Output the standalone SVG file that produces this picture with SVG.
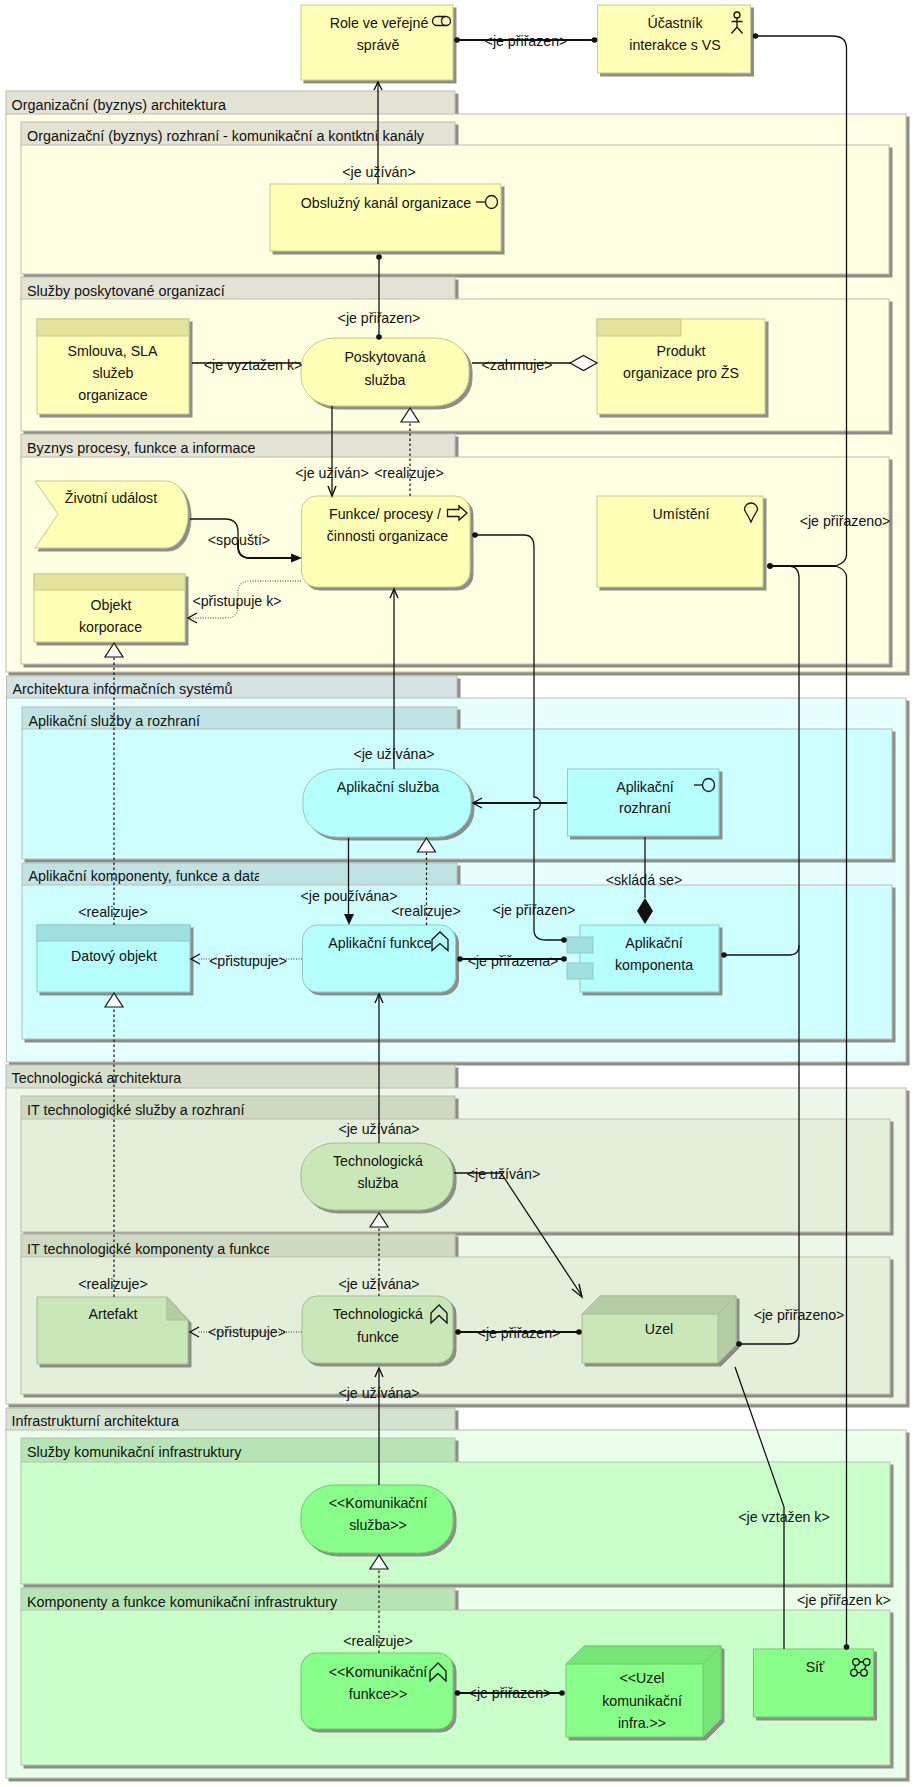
<svg xmlns="http://www.w3.org/2000/svg" width="915" height="1787" viewBox="0 0 915 1787">
<style>
text{font-family:"Liberation Sans",Arial,sans-serif;font-size:14.2px;fill:#111}
.ti{font-size:14.35px}
.c{text-anchor:middle}
.b{stroke-width:1;filter:url(#sh)}
.biz{fill:#ffffb5;stroke:#c9c98f}
.app{fill:#b5ffff;stroke:#8fc9c9}
.tec{fill:#c9e7b7;stroke:#a3bd93}
.inf{fill:#88ff88;stroke:#6ecb6e}
.bh{fill:#e3e39c;stroke:#c9c98f}
.ah{fill:#a0e0e0;stroke:#8fc9c9}
.td{fill:#b5cda5;stroke:#a3bd93}
.id{fill:#75e575;stroke:#6ecb6e}
.gt{stroke:#bdbdb0;stroke-width:1;filter:url(#sh)}
.ic{fill:none;stroke:#111;stroke-width:1.3}
.l{fill:none;stroke:#111;stroke-width:1.3}
.t{stroke-width:1.8}
.d{stroke-dasharray:2.500 2.500;stroke-width:1.200}
.g{stroke:#777;stroke-dasharray:1 1.500}
.o{fill:none;stroke:#111;stroke-width:1.4}
.w{fill:#fff;stroke:#111;stroke-width:1.2}
.k{fill:#111;stroke:none}
</style>
<defs>
<filter id="sh" x="-5%" y="-5%" width="110%" height="115%"><feDropShadow dx="3" dy="3" stdDeviation="0" flood-color="#8e8e88"/></filter>
<clipPath id="c1"><rect x="22" y="863" width="237" height="24"/></clipPath>
<clipPath id="c2"><rect x="21" y="1234" width="248" height="24"/></clipPath>
</defs>

<!-- architecture layers and their sub-containers -->
<g id="layer-business">
<rect class="gt" x="6" y="91" width="449" height="24" fill="#e3e3d3"/>
<rect class="gt" x="6" y="114" width="900" height="558" fill="#ffffe6"/>
<text class="ti" x="11.500" y="110">Organizační (byznys) architektura</text>
</g>
<g id="box-channels">
<rect class="gt" x="21" y="122" width="434" height="24" fill="#e3e3d3"/>
<rect class="gt" x="21" y="145" width="868" height="129" fill="#ffffe1"/>
<text class="ti" x="27" y="141">Organizační (byznys) rozhraní - komunikační a kontktní kanály</text>
</g>
<g id="box-services">
<rect class="gt" x="21" y="277" width="434" height="23" fill="#e3e3d3"/>
<rect class="gt" x="21" y="299" width="868" height="132" fill="#ffffe1"/>
<text class="ti" x="27" y="296">Služby poskytované organizací</text>
</g>
<g id="box-processes">
<rect class="gt" x="21" y="434" width="434" height="24" fill="#e3e3d3"/>
<rect class="gt" x="21" y="457" width="868" height="207" fill="#ffffe1"/>
<text class="ti" x="27" y="453">Byznys procesy, funkce a informace</text>
</g>
<g id="layer-is">
<rect class="gt" x="6.500" y="676" width="450.500" height="23" fill="#d3e3e3"/>
<rect class="gt" x="6.500" y="698" width="899.500" height="364" fill="#e6ffff"/>
<text class="ti" x="12.500" y="694">Architektura informačních systémů</text>
</g>
<g id="box-app-services">
<rect class="gt" x="22" y="707" width="435" height="23" fill="#bfe3e3"/>
<rect class="gt" x="22" y="729" width="870" height="130" fill="#ceffff"/>
<text class="ti" x="28.500" y="726">Aplikační služby a rozhraní</text>
</g>
<g id="box-app-components">
<rect class="gt" x="22" y="863" width="435" height="23" fill="#bfe3e3"/>
<rect class="gt" x="22" y="885" width="870" height="154" fill="#ceffff"/>
<text class="ti" x="28.500" y="881" clip-path="url(#c1)">Aplikační komponenty, funkce a data</text>
</g>
<g id="layer-tech">
<rect class="gt" x="6" y="1065" width="449" height="24" fill="#d5dfcb"/>
<rect class="gt" x="6" y="1088" width="900" height="316" fill="#edf7e7"/>
<text class="ti" x="11.500" y="1083">Technologická architektura</text>
</g>
<g id="box-tech-services">
<rect class="gt" x="21" y="1096" width="434" height="24" fill="#cdd9c0"/>
<rect class="gt" x="21" y="1119" width="869" height="113" fill="#e3efd8"/>
<text class="ti" x="27" y="1115">IT technologické služby a rozhraní</text>
</g>
<g id="box-tech-components">
<rect class="gt" x="21" y="1234" width="434" height="24" fill="#cdd9c0"/>
<rect class="gt" x="21" y="1257" width="869" height="137" fill="#e3efd8"/>
<text class="ti" x="27" y="1254" clip-path="url(#c2)">IT technologické komponenty a funkce</text>
</g>
<g id="layer-infra">
<rect class="gt" x="6" y="1408" width="449" height="23" fill="#d3e3d0"/>
<rect class="gt" x="6" y="1430" width="900" height="348" fill="#e9ffe9"/>
<text class="ti" x="11.500" y="1426">Infrastrukturní architektura</text>
</g>
<g id="box-comm-services">
<rect class="gt" x="21" y="1438" width="434" height="25" fill="#b5e5b5"/>
<rect class="gt" x="21" y="1462" width="869" height="122" fill="#c9ffc9"/>
<text class="ti" x="27" y="1457">Služby komunikační infrastruktury</text>
</g>
<g id="box-comm-components">
<rect class="gt" x="21" y="1588" width="434" height="23" fill="#b5e5b5"/>
<rect class="gt" x="21" y="1610" width="869" height="155" fill="#c9ffc9"/>
<text class="ti" x="27" y="1607">Komponenty a funkce komunikační infrastruktury</text>
</g>

<!-- elements -->
<g id="role">
<rect class="b biz" x="301" y="5" width="152" height="75"/>
<path class="ic" d="M437 16.500H446a4.500 4.500 0 0 1 0 9H437a4.500 4.500 0 0 1 0-9ZM446 16.500a4.500 4.500 0 0 0 0 9"/>
<text class="c" x="379" y="28">Role ve veřejné</text><text class="c" x="378" y="50">správě</text>
</g>
<g id="actor">
<rect class="b biz" x="597.500" y="5" width="153" height="68"/>
<circle class="ic" cx="737" cy="15" r="3"/><path class="ic" d="M737 18V27M731.500 21.500H742.500M737 27L731.500 33.500M737 27L742.500 33.500"/>
<text class="c" x="675" y="28">Účastník</text><text class="c" x="675" y="50">interakce s VS</text>
</g>
<g id="channel">
<rect class="b biz" x="270" y="184" width="231" height="67"/>
<path class="ic" d="M476 202H485"/><ellipse class="ic" cx="491.500" cy="202" rx="6" ry="6.500"/>
<text class="c" x="386" y="208">Obslužný kanál organizace</text>
</g>
<g id="contract">
<rect class="b biz" x="37" y="319" width="152" height="95"/>
<rect class="bh" x="37" y="319" width="152" height="17"/>
<text class="c" x="112.500" y="356">Smlouva, SLA</text><text class="c" x="113" y="378">služeb</text><text class="c" x="113" y="400">organizace</text>
</g>
<g id="service-org">
<rect class="b biz" x="301" y="338" width="168" height="68" rx="34" ry="30"/>
<text class="c" x="385" y="362">Poskytovaná</text><text class="c" x="385" y="385">služba</text>
</g>
<g id="product">
<rect class="b biz" x="597" y="319" width="168" height="95"/>
<path class="bh" d="M597 319H681V336H597Z"/>
<text class="c" x="681" y="356">Produkt</text><text class="c" x="681" y="378">organizace pro ŽS</text>
</g>
<g id="life-event">
<path class="b biz" d="M35 481H165C180 481 188 497 188 514S180 548 165 548H35L58 514Z"/>
<text class="c" x="111" y="503">Životní událost</text>
</g>
<g id="process">
<rect class="b biz" x="301.500" y="496" width="168.500" height="91" rx="15"/>
<path class="ic" d="M447.500 509.500H459V506L467 513L459 520V516.500H447.500Z"/>
<text class="c" x="385" y="519">Funkce/ procesy /</text><text class="c" x="387.500" y="541">činnosti organizace</text>
</g>
<g id="location">
<rect class="b biz" x="597" y="496" width="166" height="91"/>
<path class="ic" d="M751 522C747 513 744.500 511 744.500 509.500A6.500 6.500 0 0 1 757.500 509.500C757.500 511 755 513 751 522Z"/>
<text class="c" x="681" y="519">Umístění</text>
</g>
<g id="business-object">
<rect class="b biz" x="34" y="574" width="151" height="68"/>
<rect class="bh" x="34" y="574" width="151" height="16"/>
<text class="c" x="111" y="610">Objekt</text><text class="c" x="110.500" y="632">korporace</text>
</g>
<g id="app-service">
<rect class="b app" x="303" y="769" width="168" height="68" rx="34" ry="30"/>
<text class="c" x="388" y="792">Aplikační služba</text>
</g>
<g id="app-interface">
<rect class="b app" x="567.500" y="769" width="151.500" height="67"/>
<path class="ic" d="M694 785H702"/><ellipse class="ic" cx="708.500" cy="785" rx="6" ry="6.500"/>
<text class="c" x="645" y="792">Aplikační</text><text class="c" x="645" y="813">rozhraní</text>
</g>
<g id="data-object">
<rect class="b app" x="37" y="925" width="153" height="67"/>
<rect class="ah" x="37" y="925" width="153" height="16"/>
<text class="c" x="114" y="961">Datový objekt</text>
</g>
<g id="app-function">
<rect class="b app" x="302.500" y="925" width="153" height="67" rx="15"/>
<path class="ic" d="M432 950.500V939.500L440 932L448 939.500V950.500L440 943.500Z"/>
<text class="c" x="380" y="948">Aplikační funkce</text>
</g>
<g id="app-component">
<rect class="b app" x="580" y="925" width="139" height="67"/>
<rect class="ah" x="567" y="937" width="26" height="16"/>
<rect class="ah" x="567" y="963" width="26" height="16"/>
<text class="c" x="654" y="948">Aplikační</text><text class="c" x="654" y="970">komponenta</text>
</g>
<g id="tech-service">
<rect class="b tec" x="301" y="1143" width="152" height="67" rx="34" ry="30"/>
<text class="c" x="378" y="1166">Technologická</text><text class="c" x="378" y="1188">služba</text>
</g>
<g id="artifact">
<path class="b tec" d="M37 1297H167L188 1320V1364H37Z"/>
<path class="td" d="M167 1297L188 1320H167Z"/>
<text class="c" x="113" y="1319">Artefakt</text>
</g>
<g id="tech-function">
<rect class="b tec" x="302" y="1296" width="151" height="67" rx="15"/>
<path class="ic" d="M431 1323V1313L439 1305L447 1313V1323L439 1315.500Z"/>
<text class="c" x="378" y="1319">Technologická</text><text class="c" x="378" y="1342">funkce</text>
</g>
<g id="node-device">
<path class="b tec" d="M582 1314L600 1296H736V1345L718 1363H582Z"/>
<path class="td" d="M582 1314L600 1296H736L718 1314Z"/>
<path class="td" d="M718 1314L736 1296V1345L718 1363Z"/>
<text class="c" x="659" y="1334">Uzel</text>
</g>
<g id="comm-service">
<rect class="b inf" x="301" y="1485" width="152" height="68" rx="34" ry="30"/>
<text class="c" x="378" y="1508">&lt;&lt;Komunikační</text><text class="c" x="378" y="1530">služba&gt;&gt;</text>
</g>
<g id="comm-function">
<rect class="b inf" x="301" y="1653" width="152" height="76" rx="15"/>
<path class="ic" d="M430 1681V1671L438 1663L446 1671V1681L438 1673.500Z"/>
<text class="c" x="378" y="1677">&lt;&lt;Komunikační</text><text class="c" x="378" y="1699">funkce&gt;&gt;</text>
</g>
<g id="comm-node">
<path class="b inf" d="M566 1664L584 1646H721V1719L703 1737H566Z"/>
<path class="id" d="M566 1664L584 1646H721L703 1664Z"/>
<path class="id" d="M703 1664L721 1646V1719L703 1737Z"/>
<text class="c" x="642" y="1683">&lt;&lt;Uzel</text><text class="c" x="642" y="1706">komunikační</text><text class="c" x="642" y="1728">infra.&gt;&gt;</text>
</g>
<g id="network">
<rect class="b inf" x="753.500" y="1649" width="120" height="68"/>
<path class="ic" d="M859 1662H863.500M855.500 1665L854.500 1669.500M866 1665.500L864.500 1669.500M857.300 1672.700H860.700"/>
<g class="ic"><circle cx="856" cy="1662" r="3.300"/><circle cx="866.700" cy="1662" r="3.300"/><circle cx="854" cy="1672.700" r="3.300"/><circle cx="864" cy="1672.700" r="3.300"/></g>
<text class="c" x="815" y="1672">Síť</text>
</g>

<!-- relations between the elements -->
<g id="connectors">
<path class="l t" d="M457 40H594.500"/>
<path class="l" d="M755.500 36H832Q846.500 36 846.500 48V555Q846.500 562 836 566Q846.500 570 846.500 577V1647"/>
<path class="l" d="M378 184V82"/><path class="o" d="M374 90L378 82L382 90"/>
<path class="l" d="M379 257V337"/>
<path class="l" d="M192 363H301"/>
<path class="l" d="M472 363H571"/><path class="w" d="M570 363L583.500 355.500L597 363L583.500 370.500Z"/>
<path class="l" d="M332 406V496"/><path class="o" d="M328 486L332 496L336 486"/>
<path class="l d" d="M410 496V422"/><path class="w" d="M410 408L419 422H401Z"/>
<path class="l" d="M190 519H225Q238 519 238 532V546Q238 558 250 558H294"/><path class="l t" d="M238 540V546Q238 558 250 558H294"/><path class="k" d="M302 558L291 553.500V562.500Z"/>
<path class="l g" d="M301 581H250Q238 581 238 593V606Q238 618 226 618H190"/><path class="o" d="M197 613L188 618L197 623"/>
<path class="l" d="M394 769V589"/><path class="o" d="M390 598L394 589L398 598"/>
<path class="l" d="M475 535H524Q534 535 534 547V797A6.500 6.500 0 0 1 534 810V930Q534 940 546 940H564"/>
<path class="l t" d="M770 566H836"/>
<path class="l" d="M788 566Q799 566 799 578V1333Q799 1344 788 1344H739"/>
<path class="l" d="M724 955H790Q799 955 799 945"/>
<path class="l t" d="M567 803H474"/><path class="o" d="M482 798L473 803L482 808"/>
<path class="l" d="M645 837V898"/><path class="k" d="M645 898L653 911L645 924L637 911Z"/>
<path class="l" d="M348.500 838V915"/><path class="k" d="M349 925L344 914H354Z"/>
<path class="l d" d="M426.500 925V852"/><path class="w" d="M426.500 838L435.500 852H417.500Z"/>
<path class="l g" d="M302 959H198"/><path class="o" d="M200 954L191 959L200 964"/>
<path class="l t" d="M460 959H564"/>
<path class="l d" d="M114 925V657"/><path class="w" d="M114 643L123 657H105Z"/>
<path class="l d" d="M114 1297V1007"/><path class="w" d="M114 993L123 1007H105Z"/>
<path class="l" d="M379 1143V994"/><path class="o" d="M375 1003L379 994L383 1003"/>
<path class="l" d="M454 1173H501L582 1296"/><path class="o" d="M572 1289L582 1297L579 1284"/>
<path class="l d" d="M379 1296V1227"/><path class="w" d="M379 1213L388 1227H370Z"/>
<path class="l g" d="M302 1332H198"/><path class="o" d="M199 1327L190 1332L199 1337"/>
<path class="l t" d="M458 1332H579"/>
<path class="l" d="M379 1485V1368"/><path class="o" d="M375 1377L379 1368L383 1377"/>
<path class="l d" d="M379 1653V1568"/><path class="w" d="M379 1555L388 1569H370Z"/>
<path class="l t" d="M457.500 1693H562"/>
<path class="l" d="M735 1367L784 1507V1649"/>
<g class="k"><circle cx="457" cy="40" r="2.800"/><circle cx="594.500" cy="40" r="2.800"/><circle cx="755.500" cy="36" r="2.800"/><circle cx="379" cy="257" r="2.800"/><circle cx="379" cy="337" r="2.800"/><circle cx="475" cy="535" r="2.800"/><circle cx="564" cy="940" r="2.800"/><circle cx="770" cy="566" r="3"/><circle cx="739" cy="1344" r="2.800"/><circle cx="724" cy="955" r="2.800"/><circle cx="460" cy="959" r="2.800"/><circle cx="564" cy="959" r="2.800"/><circle cx="458" cy="1332" r="2.800"/><circle cx="579" cy="1332" r="2.800"/><circle cx="457.500" cy="1693" r="2.800"/><circle cx="562" cy="1693" r="2.800"/><circle cx="846.500" cy="1647" r="2.800"/></g>
<g>
<text class="c" x="526" y="46">&lt;je přiřazen&gt;</text>
<text class="c" x="379" y="177">&lt;je užíván&gt;</text>
<text class="c" x="379" y="323">&lt;je přiřazen&gt;</text>
<text class="c" x="253" y="370">&lt;je vyztažen k&gt;</text>
<text class="c" x="517" y="370">&lt;zahrnuje&gt;</text>
<text class="c" x="332" y="478">&lt;je užíván&gt;</text>
<text class="c" x="409" y="478">&lt;realizuje&gt;</text>
<text class="c" x="239" y="545">&lt;spouští&gt;</text>
<text class="c" x="237" y="606">&lt;přistupuje k&gt;</text>
<text class="c" x="845" y="526">&lt;je přiřazeno&gt;</text>
<text class="c" x="394" y="759">&lt;je užívána&gt;</text>
<text class="c" x="644" y="885">&lt;skládá se&gt;</text>
<text class="c" x="349" y="901">&lt;je používána&gt;</text>
<text class="c" x="426" y="916">&lt;realizuje&gt;</text>
<text class="c" x="534" y="915">&lt;je přiřazen&gt;</text>
<text class="c" x="113" y="917">&lt;realizuje&gt;</text>
<text class="c" x="248" y="966">&lt;přistupuje&gt;</text>
<text class="c" x="513" y="966">&lt;je přiřazena&gt;</text>
<text class="c" x="379" y="1134">&lt;je užívána&gt;</text>
<text class="c" x="503.500" y="1179">&lt;je užíván&gt;</text>
<text class="c" x="113" y="1289">&lt;realizuje&gt;</text>
<text class="c" x="379" y="1289">&lt;je užívána&gt;</text>
<text class="c" x="247" y="1337">&lt;přistupuje&gt;</text>
<text class="c" x="519" y="1338">&lt;je přiřazen&gt;</text>
<text class="c" x="799" y="1320">&lt;je přiřazeno&gt;</text>
<text class="c" x="379" y="1398">&lt;je užívána&gt;</text>
<text class="c" x="784" y="1522">&lt;je vztažen k&gt;</text>
<text class="c" x="844" y="1605">&lt;je přiřazen k&gt;</text>
<text class="c" x="378" y="1646">&lt;realizuje&gt;</text>
<text class="c" x="510" y="1698">&lt;je přiřazen&gt;</text>
</g>
</g>
</svg>
